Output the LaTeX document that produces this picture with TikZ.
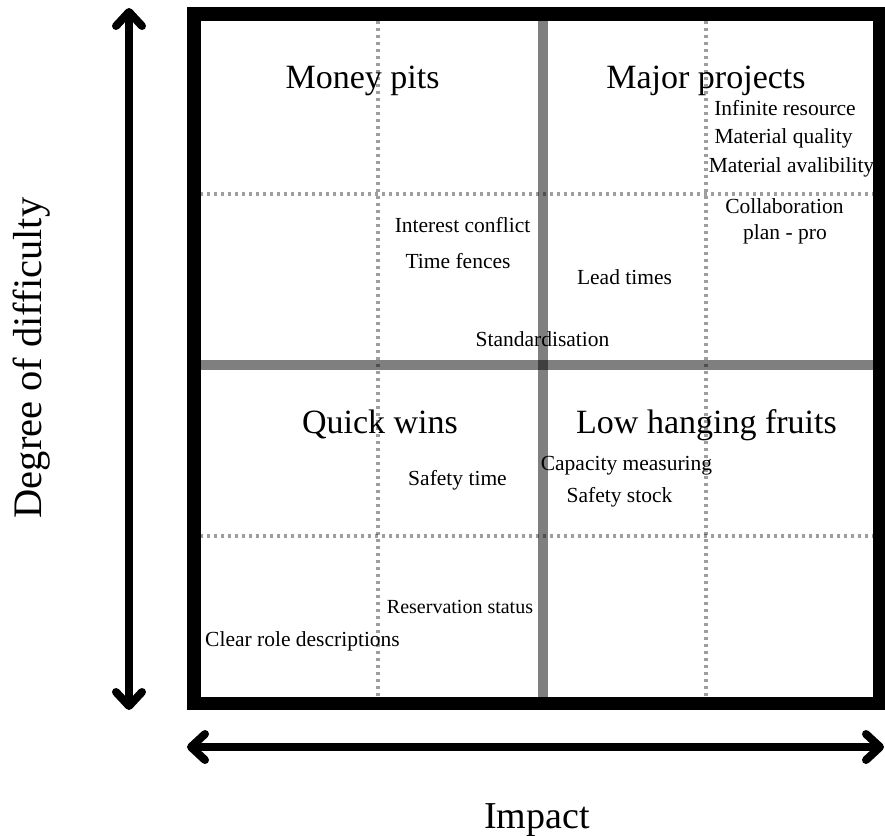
\documentclass[tikz,border=0pt]{standalone}
\usepackage{fontspec}
\setmainfont{Liberation Serif}
\usetikzlibrary{arrows.meta}

\tikzset{
  frame/.style={line width=13.5pt},
  split/.style={line width=10pt, black, opacity=0.5},
  grid/.style={line width=3.2pt, black, opacity=0.38, dash pattern=on 3.2pt off 3.8pt},
  axis/.style={line width=8pt, {Straight Barb[length=14pt,width=26pt,round]}-{Straight Barb[length=14pt,width=26pt,round]}},
  title/.style={font=\fontsize{34}{40}\selectfont, anchor=base, inner sep=0pt},
  item/.style={font=\fontsize{21.5}{26}\selectfont, anchor=base, inner sep=0pt},
  axislabel/.style={font=\fontsize{38}{44}\selectfont, inner sep=0pt}
}

\begin{document}
\begin{tikzpicture}[x=1pt,y=-1pt]
  \useasboundingbox (0,0) rectangle (885,835);

  \coordinate (nw) at (193.75,13.75);
  \coordinate (se) at (879.5,703.5);
  \coordinate (up) at (129,8);
  \coordinate (down) at (129,710);
  \coordinate (left) at (187,747);
  \coordinate (right) at (884,747);

  % fine grid
  \draw[grid] (378,21) -- (378,697);
  \draw[grid] (706,21) -- (706,697);
  \draw[grid] (200,194) -- (873,194);
  \draw[grid] (200,536) -- (873,536);

  % quadrant split
  \draw[split] (543,20.5) -- (543,697);
  \draw[split] (200,365) -- (873,365);

  \draw[frame] (nw) rectangle (se);

  \draw[axis] (down) -- (up);
  \draw[axis] (left) -- (right);

  \node[axislabel, font=\fontsize{40.5}{46}\selectfont, rotate=90] (difficulty) at (32,358) {Degree of difficulty};
  \node[axislabel, anchor=base] (impact) at (537,828) {Impact};

  \node[title] (pits) at (362.5,88) {Money pits};
  \node[title] (major) at (706,88) {Major projects};
  \node[title] (quick) at (380,433) {Quick wins};
  \node[title] (fruits) at (706.5,433) {Low hanging fruits};

  \node[item] (infinite) at (785,115) {Infinite resource};
  \node[item] (quality) at (783.5,143) {Material quality};
  \node[item] (avail) at (791.5,172) {Material avalibility};
  \node[item] (collab) at (784.5,213) {Collaboration};
  \node[item] (planpro) at (785,239) {plan - pro};
  \node[item] (conflict) at (462.5,232) {Interest conflict};
  \node[item] (fences) at (458,268) {Time fences};
  \node[item] (lead) at (624.5,284) {Lead times};
  \node[item] (standard) at (542.5,346) {Standardisation};
  \node[item] (capacity) at (626.5,470) {Capacity measuring};
  \node[item] (stock) at (619.5,502) {Safety stock};
  \node[item] (safetime) at (457.5,485) {Safety time};
  \node[item, font=\fontsize{20}{24}\selectfont] (reserv) at (460,613) {Reservation status};
  \node[item] (roles) at (302.5,646) {Clear role descriptions};
\end{tikzpicture}
\end{document}
